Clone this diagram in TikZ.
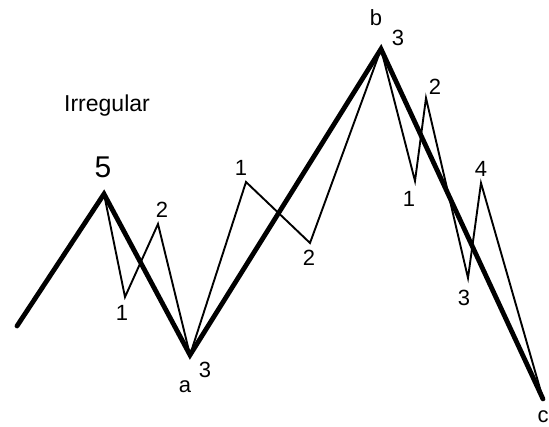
\documentclass[tikz,border=0pt]{standalone}
\usepackage{fontspec}
\setmainfont{Liberation Sans}
\begin{document}
\begin{tikzpicture}[x=1pt,y=-1pt,
  thickwave/.style={line width=4.8pt,line join=miter,line cap=round},
  thinwave/.style={line width=1.9pt,line join=miter},
  lbl/.style={inner sep=0pt,font=\fontsize{22}{22}\selectfont},
  biglbl/.style={inner sep=0pt,font=\fontsize{30}{30}\selectfont},
  titlelbl/.style={inner sep=0pt,font=\fontsize{23}{23}\selectfont}]
\path[use as bounding box,fill=white] (0,0) rectangle (549,427);
% vertices
\coordinate (S) at (17,326);
\coordinate (P5) at (104,194);
\coordinate (A) at (190,355);
\coordinate (B) at (381,49);
\coordinate (C) at (543,399);
\coordinate (w1) at (125,297);
\coordinate (w2) at (158,224);
\coordinate (x1) at (246,182);
\coordinate (x2) at (310,243);
\coordinate (y1) at (415,181);
\coordinate (y2) at (426,98);
\coordinate (y3) at (468,278);
\coordinate (y4) at (481,183);
% thin subwaves
\draw[thinwave] (P5) -- (w1) -- (w2) -- (A) -- (x1) -- (x2) -- (B) -- (y1) -- (y2) -- (y3) -- (y4) -- (C);
% thick waves
\draw[thickwave] (S) -- (P5) -- (A) -- (B) -- (C);
% labels
\node[titlelbl] (title) at (107,106) {Irregular};
\node[biglbl] (l5) at (103,167) {5};
\node[lbl] (lw1) at (122,313) {1};
\node[lbl] (lw2) at (162,210) {2};
\node[lbl] (la) at (185,387) {a};
\node[lbl] (la3) at (205,370) {3};
\node[lbl] (lx1) at (241,168) {1};
\node[lbl] (lx2) at (309,258) {2};
\node[lbl] (lb) at (376,18) {b};
\node[lbl] (lb3) at (398,38) {3};
\node[lbl] (ly1) at (409,199) {1};
\node[lbl] (ly2) at (435,87) {2};
\node[lbl] (ly3) at (464,298) {3};
\node[lbl] (ly4) at (481,169) {4};
\node[lbl] (lc) at (543,417) {c};
\end{tikzpicture}
\end{document}
